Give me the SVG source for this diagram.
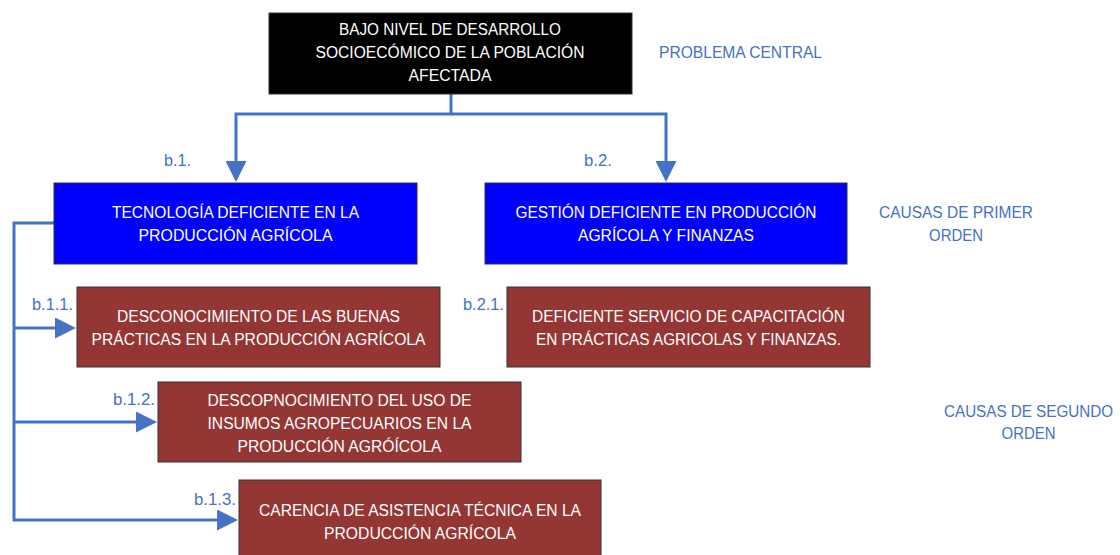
<svg xmlns="http://www.w3.org/2000/svg" width="1120" height="555" viewBox="0 0 1120 555">
<defs>
<style>
.box{stroke:#333;stroke-width:1}
.black{fill:#000}
.blue{fill:#0000FF}
.brown{fill:#943634}
.t{font-family:"Liberation Sans",Arial,sans-serif;font-size:16px;fill:#fff;text-anchor:middle}
.lbl{font-family:"Liberation Sans",Arial,sans-serif;font-size:16px;fill:#4472C4}
.c{text-anchor:middle}
.conn{fill:none;stroke:#4472C4;stroke-width:3}
</style>
<marker id="ah" viewBox="0 0 10 10" refX="0" refY="5" markerWidth="7.3" markerHeight="7" markerUnits="strokeWidth" orient="auto">
<path d="M0,0 L10,5 L0,10 Z" fill="#4472C4"/>
</marker>
</defs>
<rect width="1120" height="555" fill="#fff"/>
<g id="connectors">
<path class="conn" d="M451,94 V114 H236 V161" marker-end="url(#ah)"/>
<path class="conn" d="M451,114 H666 V161" marker-end="url(#ah)"/>
<path class="conn" d="M54,223 H14 V520 H217" marker-end="url(#ah)"/>
<path class="conn" d="M14,328 H55" marker-end="url(#ah)"/>
<path class="conn" d="M14,422 H136" marker-end="url(#ah)"/>
</g>
<g id="n-central">
<rect class="box black" x="269" y="13" width="363" height="81"/>
<text class="t" x="450" y="35" textLength="222" lengthAdjust="spacingAndGlyphs">BAJO NIVEL DE DESARROLLO</text>
<text class="t" x="450" y="58" textLength="269" lengthAdjust="spacingAndGlyphs">SOCIOECÓMICO DE LA POBLACIÓN</text>
<text class="t" x="450" y="81" textLength="83" lengthAdjust="spacingAndGlyphs">AFECTADA</text>
</g>
<g id="n-b1">
<rect class="box blue" x="54" y="183" width="363" height="81"/>
<text class="t" x="235.5" y="218" textLength="247" lengthAdjust="spacingAndGlyphs">TECNOLOGÍA DEFICIENTE EN LA</text>
<text class="t" x="235.5" y="241" textLength="194" lengthAdjust="spacingAndGlyphs">PRODUCCIÓN AGRÍCOLA</text>
</g>
<g id="n-b2">
<rect class="box blue" x="485" y="183" width="362" height="81"/>
<text class="t" x="666" y="218" textLength="301" lengthAdjust="spacingAndGlyphs">GESTIÓN DEFICIENTE EN PRODUCCIÓN</text>
<text class="t" x="666" y="241" textLength="176" lengthAdjust="spacingAndGlyphs">AGRÍCOLA Y FINANZAS</text>
</g>
<g id="n-b11">
<rect class="box brown" x="77" y="287" width="363" height="80"/>
<text class="t" x="258.5" y="322" textLength="283" lengthAdjust="spacingAndGlyphs">DESCONOCIMIENTO DE LAS BUENAS</text>
<text class="t" x="258.5" y="345" textLength="334" lengthAdjust="spacingAndGlyphs">PRÁCTICAS EN LA PRODUCCIÓN AGRÍCOLA</text>
</g>
<g id="n-b21">
<rect class="box brown" x="507" y="287" width="363" height="80"/>
<text class="t" x="688.5" y="322" textLength="313" lengthAdjust="spacingAndGlyphs">DEFICIENTE SERVICIO DE CAPACITACIÓN</text>
<text class="t" x="688.5" y="345" textLength="305" lengthAdjust="spacingAndGlyphs">EN PRÁCTICAS AGRICOLAS Y FINANZAS.</text>
</g>
<g id="n-b12">
<rect class="box brown" x="158" y="382" width="363" height="80"/>
<text class="t" x="339.5" y="406" textLength="264" lengthAdjust="spacingAndGlyphs">DESCOPNOCIMIENTO DEL USO DE</text>
<text class="t" x="339.5" y="429" textLength="264" lengthAdjust="spacingAndGlyphs">INSUMOS AGROPECUARIOS EN LA</text>
<text class="t" x="339.5" y="452" textLength="204" lengthAdjust="spacingAndGlyphs">PRODUCCIÓN AGRÓÍCOLA</text>
</g>
<g id="n-b13">
<rect class="box brown" x="239" y="480" width="362" height="80"/>
<text class="t" x="420" y="516" textLength="322" lengthAdjust="spacingAndGlyphs">CARENCIA DE ASISTENCIA TÉCNICA EN LA</text>
<text class="t" x="420" y="539" textLength="192" lengthAdjust="spacingAndGlyphs">PRODUCCIÓN AGRÍCOLA</text>
</g>
<g id="labels">
<text class="lbl" x="164" y="166" textLength="27" lengthAdjust="spacingAndGlyphs">b.1.</text>
<text class="lbl" x="584" y="166" textLength="28" lengthAdjust="spacingAndGlyphs">b.2.</text>
<text class="lbl" x="32" y="310" textLength="41" lengthAdjust="spacingAndGlyphs">b.1.1.</text>
<text class="lbl" x="463" y="310" textLength="41" lengthAdjust="spacingAndGlyphs">b.2.1.</text>
<text class="lbl" x="113" y="405" textLength="42" lengthAdjust="spacingAndGlyphs">b.1.2.</text>
<text class="lbl" x="194" y="505" textLength="42" lengthAdjust="spacingAndGlyphs">b.1.3.</text>
<text class="lbl" x="659" y="58" textLength="163" lengthAdjust="spacingAndGlyphs">PROBLEMA CENTRAL</text>
<text class="lbl c" x="956" y="218" textLength="154" lengthAdjust="spacingAndGlyphs">CAUSAS DE PRIMER</text>
<text class="lbl c" x="956" y="241" textLength="54" lengthAdjust="spacingAndGlyphs">ORDEN</text>
<text class="lbl c" x="1028.5" y="417" textLength="169" lengthAdjust="spacingAndGlyphs">CAUSAS DE SEGUNDO</text>
<text class="lbl c" x="1028.5" y="439" textLength="54" lengthAdjust="spacingAndGlyphs">ORDEN</text>
</g>
</svg>
